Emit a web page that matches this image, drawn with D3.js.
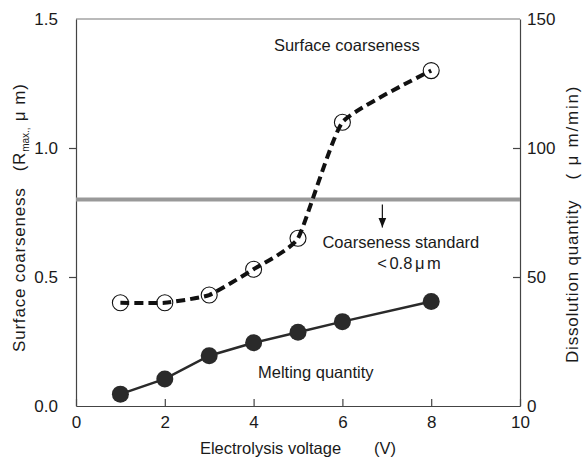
<!DOCTYPE html>
<html lang="en">
<head>
<meta charset="UTF-8">
<title>Electrolysis voltage chart</title>
<style>
    body { margin: 0; padding: 0; background: #fff; }
    svg text { font-family: Arial, "Liberation Sans", sans-serif; fill: #1a1a1a; }
    .axis path, .axis line { stroke: #444; stroke-width: 1.2px; }
    .axis text { font-size: 17px; }
</style>
</head>
<body>
<svg id="chart" width="588" height="468"></svg>
<script src="https://d3js.org/d3.v7.min.js"></script>
<script>
    // Data
    const voltage = [1, 2, 3, 4, 5, 6, 8];
    const coarseness = [0.40, 0.40, 0.43, 0.53, 0.65, 1.10, 1.30];   // left axis, um
    const melting = [4.6, 10.5, 19.5, 24.5, 28.6, 32.7, 40.5];        // right axis, um/min
    const xTicks = [0, 2, 4, 6, 8, 10];
    const leftTicks = [0, 0.5, 1.0, 1.5];
    const rightTicks = [0, 50, 100, 150];
    const standard = 0.8;

    const margin = { top: 19, right: 68, bottom: 62, left: 76 };
    const width = 588 - margin.left - margin.right;
    const height = 468 - margin.top - margin.bottom;

    const svg = d3.select("#chart")
        .append("g")
        .attr("transform", "translate(" + margin.left + "," + margin.top + ")");

    const x = d3.scaleLinear().domain([0, 10]).range([0, width]);
    const yL = d3.scaleLinear().domain([0, 1.5]).range([height, 0]);
    const yR = d3.scaleLinear().domain([0, 150]).range([height, 0]);

    // top border
    svg.append("line")
        .attr("x1", 0).attr("x2", width)
        .attr("y1", 0).attr("y2", 0)
        .attr("stroke", "#777").attr("stroke-width", 1.2);

    // axes
    svg.append("g")
        .attr("class", "axis")
        .attr("transform", "translate(0," + height + ")")
        .call(d3.axisBottom(x).tickValues(xTicks).tickSizeInner(-7).tickSizeOuter(0).tickPadding(10))
        .call(g => g.selectAll("text").attr("dy", "0.71em"));

    svg.append("g")
        .attr("class", "axis")
        .call(d3.axisLeft(yL).tickValues(leftTicks).tickFormat(d3.format(".1f")).tickSizeInner(7).tickSizeOuter(0).tickPadding(11))
        .call(g => g.selectAll(".tick").filter(d => d === 0 || d === 1.5).select("line").remove());

    svg.append("g")
        .attr("class", "axis")
        .attr("transform", "translate(" + width + ",0)")
        .call(d3.axisRight(yR).tickValues(rightTicks).tickSizeInner(-7).tickSizeOuter(0).tickPadding(7))
        .call(g => g.selectAll(".tick").filter(d => d === 0 || d === 150).select("line").remove());

    // coarseness standard line
    svg.append("line")
        .attr("x1", 0).attr("x2", width)
        .attr("y1", yL(standard)).attr("y2", yL(standard))
        .attr("stroke", "#999").attr("stroke-width", 4);

    // arrow
    svg.append("defs").append("marker")
        .attr("id", "arrow")
        .attr("viewBox", "0 0 10 10")
        .attr("refX", 10).attr("refY", 5)
        .attr("markerWidth", 8).attr("markerHeight", 8)
        .attr("orient", "auto")
        .append("path")
        .attr("d", "M0,1 L10,5 L0,9 Z")
        .attr("fill", "#111");

    svg.append("line")
        .attr("x1", x(6.9)).attr("x2", x(6.9))
        .attr("y1", yL(standard) + 5).attr("y2", yL(standard) + 28)
        .attr("stroke", "#111").attr("stroke-width", 1.2)
        .attr("marker-end", "url(#arrow)");

    // surface coarseness dashed curve
    const coarseData = voltage.map((v, i) => [v, coarseness[i]]);
    svg.append("path")
        .datum(coarseData)
        .attr("fill", "none")
        .attr("stroke", "#111")
        .attr("stroke-width", 4)
        .attr("stroke-dasharray", "9,5")
        .attr("d", d3.line().x(d => x(d[0])).y(d => yL(d[1])).curve(d3.curveCardinal.tension(0.55)));

    svg.selectAll(".open")
        .data(coarseData)
        .enter().append("circle")
        .attr("cx", d => x(d[0]))
        .attr("cy", d => yL(d[1]))
        .attr("r", 8)
        .attr("fill", "none")
        .attr("stroke", "#111")
        .attr("stroke-width", 1.1);

    // melting quantity line
    const meltData = voltage.map((v, i) => [v, melting[i]]);
    svg.append("path")
        .datum(meltData)
        .attr("fill", "none")
        .attr("stroke", "#2a2a2a")
        .attr("stroke-width", 2.5)
        .attr("d", d3.line().x(d => x(d[0])).y(d => yR(d[1])));

    svg.selectAll(".filled")
        .data(meltData)
        .enter().append("circle")
        .attr("cx", d => x(d[0]))
        .attr("cy", d => yR(d[1]))
        .attr("r", 8.5)
        .attr("fill", "#2a2a2a");

    // annotations
    const note = (tx, ty, s, anchor) => svg.append("text")
        .attr("x", tx).attr("y", ty)
        .attr("text-anchor", anchor || "middle")
        .attr("font-size", 16.5)
        .text(s);

    note(x(6.1), 32, "Surface coarseness");
    note(x(5.55), 229, "Coarseness standard", "start");
    note(x(7.5), 250, "< 0.8 \u03bc m").attr("word-spacing", "-2px");
    note(x(5.4), 359, "Melting quantity");

    // axis titles
    svg.append("text")
        .attr("x", x(5))
        .attr("y", height + 48)
        .attr("text-anchor", "middle")
        .attr("font-size", 16.5)
        .text("Electrolysis voltage\u2003\u2003(V)");

    const leftTitle = svg.append("text")
        .attr("transform", "translate(" + (-51) + "," + (352 - margin.top) + ") rotate(-90)")
        .attr("text-anchor", "start")
        .attr("font-size", 17)
        .attr("letter-spacing", "0.8px");
    leftTitle.append("tspan").text("Surface coarseness");
    leftTitle.append("tspan").attr("dx", 16).text("(R");
    leftTitle.append("tspan").attr("font-size", 10).attr("dy", 4).attr("letter-spacing", "0px").text("max.,");
    leftTitle.append("tspan").attr("dy", -4).attr("dx", 6).attr("letter-spacing", "1px").text("\u03bc m)");

    const rightTitle = svg.append("text")
        .attr("transform", "translate(" + (width + 58) + "," + (363 - margin.top) + ") rotate(-90)")
        .attr("text-anchor", "start")
        .attr("font-size", 17)
        .attr("letter-spacing", "0.8px");
    rightTitle.append("tspan").text("Dissolution quantity");
    rightTitle.append("tspan").attr("dx", 20).attr("letter-spacing", "1.8px").text("( \u03bc m/min)");
</script>
</body>
</html>
